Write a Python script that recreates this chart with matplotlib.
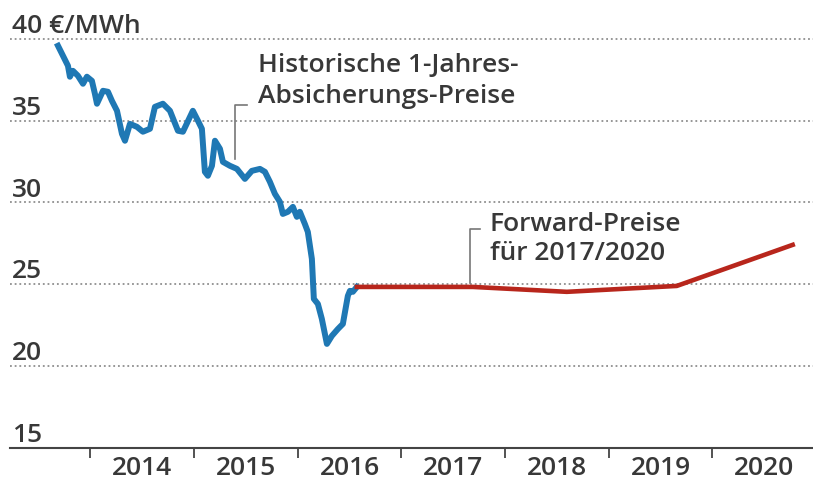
import numpy as np
import matplotlib
matplotlib.use('Agg')
import matplotlib.pyplot as plt

plt.rcParams['font.family'] = ['Open Sans', 'DejaVu Sans']

# historic 1-year hedge prices (decimal year, EUR/MWh)
hist_years = [2013.687, 2013.735, 2013.783, 2013.802, 2013.831, 2013.879, 2013.928, 2013.966,
              2014.014, 2014.043, 2014.063, 2014.121, 2014.169, 2014.207, 2014.256, 2014.304,
              2014.333, 2014.381, 2014.448, 2014.506, 2014.574, 2014.622, 2014.699, 2014.767,
              2014.844, 2014.892, 2014.988, 2015.037, 2015.075, 2015.104, 2015.133, 2015.172,
              2015.201, 2015.249, 2015.278, 2015.345, 2015.413, 2015.490, 2015.557, 2015.635,
              2015.683, 2015.731, 2015.779, 2015.827, 2015.856, 2015.905, 2015.953, 2015.991,
              2016.020, 2016.068, 2016.097, 2016.136, 2016.155, 2016.194, 2016.232, 2016.281,
              2016.329, 2016.387, 2016.435, 2016.483, 2016.503, 2016.531, 2016.570]
hist_prices = [39.57, 38.96, 38.35, 37.68, 38.04, 37.74, 37.25, 37.68,
               37.43, 36.64, 36.03, 36.82, 36.76, 36.21, 35.60, 34.19,
               33.77, 34.80, 34.62, 34.32, 34.50, 35.84, 36.03, 35.60,
               34.38, 34.32, 35.60, 34.99, 34.50, 31.87, 31.63, 32.24,
               33.77, 33.28, 32.48, 32.24, 32.05, 31.44, 31.93, 32.05,
               31.87, 31.26, 30.53, 30.04, 29.30, 29.43, 29.73, 29.12,
               29.43, 28.69, 28.20, 26.55, 24.11, 23.80, 22.89, 21.36,
               21.85, 22.27, 22.58, 24.29, 24.60, 24.54, 24.84]

# forward prices 2017-2020
fwd_years = [2016.570, 2017.689, 2018.595, 2019.656, 2020.774]
fwd_prices = [24.84, 24.84, 24.54, 24.90, 27.41]

year_labels = ['2014', '2015', '2016', '2017', '2018', '2019', '2020']
y_levels = [15, 20, 25, 30, 35, 40]

text_col = '#383838'
fs = 19
fw = 'semibold'

fig = plt.figure(figsize=(8.13, 4.89), dpi=100)
ax = fig.add_axes([0.0123, 0.0818, 0.9877, 0.857])
ax.set_xlim(2013.224, 2020.97)
ax.set_ylim(15, 40.6)

# dotted grid lines
for v in y_levels[1:]:
    ax.axhline(v, color='#8f8f8f', lw=1.3, ls=(0, (1, 1.6)), zorder=1)

ax.plot(hist_years, hist_prices, color='#1f78b4', lw=4.3, solid_joinstyle='round', zorder=3)
ax.plot(fwd_years, fwd_prices, color='#b8261c', lw=3.3, solid_joinstyle='round', zorder=3)

# y labels sit on top of their grid lines
for v in y_levels:
    lab = '40 €/MWh' if v == 40 else str(v)
    ax.annotate(lab, xy=(0.002, v), xycoords=('axes fraction', 'data'),
                xytext=(0, 5), textcoords='offset points',
                ha='left', va='baseline', fontsize=fs, fontweight=fw, color=text_col)

for s in ['top', 'right', 'left']:
    ax.spines[s].set_visible(False)
ax.spines['bottom'].set_color('#444444')
ax.spines['bottom'].set_linewidth(1.5)
ax.set_yticks([])

start = int(year_labels[0])
ax.set_xticks(np.arange(start, start + len(year_labels)))
ax.set_xticklabels([])
ax.tick_params(axis='x', which='major', length=7, width=1.3, color='#444444')
ax.set_xticks(np.arange(start, start + len(year_labels)) + 0.5, minor=True)
ax.set_xticklabels(year_labels, minor=True, fontweight=fw)
ax.tick_params(axis='x', which='minor', length=0, pad=5, labelsize=fs, labelcolor=text_col)

# annotations with leader lines
ax.plot([2015.509, 2015.393, 2015.393], [35.97, 35.97, 32.67], color='#777777', lw=1.2, zorder=2)
ax.text(2015.615, 37.5, 'Historische 1-Jahres-\nAbsicherungs-Preise', ha='left', va='center',
        fontsize=fs, fontweight=fw, color=text_col, linespacing=1.3)
ax.plot([2017.756, 2017.66, 2017.66], [28.39, 28.39, 25.09], color='#777777', lw=1.2, zorder=2)
ax.text(2017.853, 27.85, 'Forward-Preise\nfür 2017/2020', ha='left', va='center',
        fontsize=fs, fontweight=fw, color=text_col, linespacing=1.2)

fig.savefig('out.png', dpi=100)
